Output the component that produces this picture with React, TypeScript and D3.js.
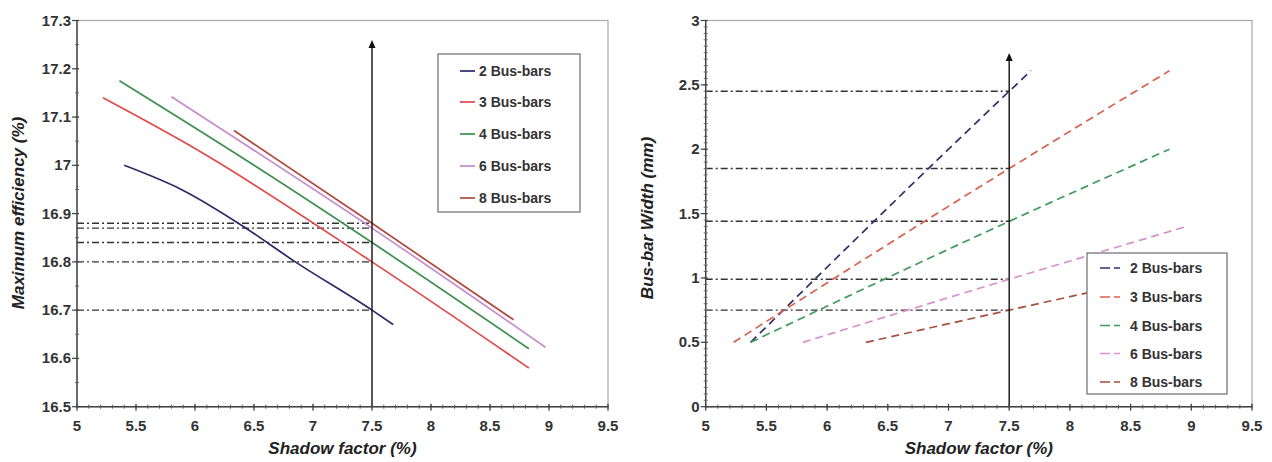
import React from "react";
import * as d3 from "d3";

const seriesNames = ["2 Bus-bars", "3 Bus-bars", "4 Bus-bars", "6 Bus-bars", "8 Bus-bars"];
const leftColors = ["#2b2b6b", "#e04a4a", "#3b8f4f", "#c78ccc", "#b2493f"];
const rightColors = ["#30306a", "#d8604e", "#3f9a5c", "#d890cc", "#a4503e"];

// Left chart: Maximum efficiency (%) vs shadow factor (%)
const eff2 = [[5.4, 17.0], [5.9, 16.948], [6.4, 16.875], [6.85, 16.8], [7.5, 16.7], [7.68, 16.67]];
const eff3 = [[5.22, 17.14], [6.0, 17.035], [7.5, 16.8], [8.83, 16.58]];
const eff4 = [[5.36, 17.175], [6.5, 17.0], [7.5, 16.84], [8.83, 16.62]];
const eff6 = [[5.8, 17.142], [7.5, 16.87], [8.97, 16.623]];
const eff8 = [[6.33, 17.072], [7.5, 16.88], [8.7, 16.68]];
const effSeries = [eff2, eff3, eff4, eff6, eff8];
const effRefLevels = [16.88, 16.87, 16.84, 16.8, 16.7];

// Right chart: bus-bar width (mm) vs shadow factor (%)
const wid2 = [[5.37, 0.5], [7.5, 2.45], [7.68, 2.61]];
const wid3 = [[5.23, 0.5], [7.5, 1.85], [8.82, 2.61]];
const wid4 = [[5.37, 0.5], [7.5, 1.44], [8.82, 2.0]];
const wid6 = [[5.8, 0.5], [7.5, 0.99], [8.96, 1.4]];
const wid8 = [[6.32, 0.5], [7.5, 0.75], [8.7, 1.0]];
const widSeries = [wid2, wid3, wid4, wid6, wid8];
const widRefLevels = [2.45, 1.85, 1.44, 0.99, 0.75];

const xTicks = [5, 5.5, 6, 6.5, 7, 7.5, 8, 8.5, 9, 9.5];
const effTicks = [16.5, 16.6, 16.7, 16.8, 16.9, 17, 17.1, 17.2, 17.3];
const widTicks = [0, 0.5, 1, 1.5, 2, 2.5, 3];
const markX = 7.5;

const FONT = "'Liberation Sans', Arial, sans-serif";
const DASHDOT = "7 3 2 3";

function Panel(props: any) {
  const { x0, x1, y0, y1, yDomain, yTicks, yMinorStep, series, colors, refLevels, dashed, yTitle, arrowTop, legend, yFmt } = props;
  const x = d3.scaleLinear().domain([5, 9.5]).range([x0, x1]);
  const y = d3.scaleLinear().domain(yDomain).range([y1, y0]);
  const line = d3.line<number[]>().x((d) => x(d[0])).y((d) => y(d[1])).curve(d3.curveMonotoneX);
  const xMinor = d3.range(5, 9.5001, 0.1);
  const yMinor = d3.range(yDomain[0], yDomain[1] + 1e-6, yMinorStep);
  const cx = (x0 + x1) / 2;
  return (
    <g>
      <rect x={x0} y={y0} width={x1 - x0} height={y1 - y0} fill="none" stroke="#a8a8a8" strokeWidth={1.2} />
      {refLevels.map((v: number, i: number) => (
        <line key={"r" + i} x1={x0} x2={x(markX)} y1={y(v)} y2={y(v)} stroke="#333" strokeWidth={1.4} strokeDasharray={DASHDOT} />
      ))}
      {series.map((s: number[][], i: number) => (
        <path key={"s" + i} d={line(s) || ""} fill="none" stroke={colors[i]} strokeWidth={1.7}
          strokeDasharray={dashed ? "8 5" : undefined} />
      ))}
      <line x1={x(markX)} x2={x(markX)} y1={y1} y2={arrowTop + 6} stroke="#111" strokeWidth={1.4} />
      <path d={`M${x(markX) - 3.5},${arrowTop + 8} L${x(markX)},${arrowTop} L${x(markX) + 3.5},${arrowTop + 8} Z`} fill="#111" />
      <line x1={x0} x2={x0} y1={y0} y2={y1} stroke="#444" strokeWidth={1.4} />
      <line x1={x0} x2={x1} y1={y1} y2={y1} stroke="#444" strokeWidth={1.4} />
      {xMinor.map((t: number, i: number) => (
        <line key={"xm" + i} x1={x(t)} x2={x(t)} y1={y1 - 2} y2={y1 + 2} stroke="#555" strokeWidth={1} />
      ))}
      {xTicks.map((t) => (
        <g key={"xt" + t}>
          <line x1={x(t)} x2={x(t)} y1={y1 - 3} y2={y1 + 4} stroke="#444" strokeWidth={1.2} />
          <text x={x(t)} y={y1 + 24} textAnchor="middle" fontFamily={FONT} fontWeight="bold" fontSize={15} fill="#333">{t}</text>
        </g>
      ))}
      {yMinor.map((t: number, i: number) => (
        <line key={"ym" + i} x1={x0 - 2} x2={x0 + 2} y1={y(t)} y2={y(t)} stroke="#666" strokeWidth={1} />
      ))}
      {yTicks.map((t: number) => (
        <g key={"yt" + t}>
          <line x1={x0 - 5} x2={x0 + 2} y1={y(t)} y2={y(t)} stroke="#444" strokeWidth={1.2} />
          <text x={x0 - 6} y={y(t) + 5} textAnchor="end" fontFamily={FONT} fontWeight="bold" fontSize={15} fill="#333">{yFmt(t)}</text>
        </g>
      ))}
      <text x={cx} y={454} textAnchor="middle" fontFamily={FONT} fontWeight="bold" fontStyle="italic" fontSize={17} fill="#222">Shadow factor (%)</text>
      <text transform={`translate(${yTitle.x},${yTitle.y}) rotate(-90)`} textAnchor="middle" fontFamily={FONT} fontWeight="bold" fontStyle="italic" fontSize={17} fill="#222">{yTitle.text}</text>
      <rect x={legend.x} y={legend.y} width={legend.w} height={legend.h} fill="#fff" stroke="#777" strokeWidth={1.3} />
      {seriesNames.map((n, i) => (
        <g key={"l" + i}>
          <line x1={legend.lx} x2={legend.lx + legend.lw} y1={legend.ry[i]} y2={legend.ry[i]} stroke={colors[i]} strokeWidth={1.7}
            strokeDasharray={dashed ? "10 4 6 40" : undefined} />
          <text x={legend.tx} y={legend.ry[i] + 5} fontFamily={FONT} fontWeight="bold" fontSize={14} fill="#333">{n}</text>
        </g>
      ))}
    </g>
  );
}

export default function App() {
  return (
    <svg width={1272} height={462} style={{ display: "block", position: "absolute", left: 0, top: 0, background: "#fff" }}>
      <rect x={0} y={0} width={1272} height={462} fill="#fff" />
      <Panel x0={77} x1={608} y0={20.5} y1={406.7} yDomain={[16.5, 17.3]} yTicks={effTicks} yMinorStep={0.05}
        series={effSeries} colors={leftColors} refLevels={effRefLevels} dashed={false}
        yTitle={{ x: 24, y: 213, text: "Maximum efficiency (%)" }} arrowTop={40}
        yFmt={(t: number) => d3.format("")(+t.toFixed(1))}
        legend={{ x: 438, y: 54, w: 142, h: 158, lx: 460, lw: 15, tx: 479, ry: [71, 102, 134, 166, 198] }} />
      <Panel x0={705.7} x1={1252} y0={20.5} y1={406.7} yDomain={[0, 3]} yTicks={widTicks} yMinorStep={0.05}
        series={widSeries} colors={rightColors} refLevels={widRefLevels} dashed={true}
        yTitle={{ x: 653, y: 218, text: "Bus-bar Width (mm)" }} arrowTop={53}
        yFmt={(t: number) => d3.format("")(t)}
        legend={{ x: 1087, y: 253, w: 140, h: 141, lx: 1100, lw: 28, tx: 1130, ry: [268, 297, 325.5, 353.5, 382] }} />
    </svg>
  );
}
